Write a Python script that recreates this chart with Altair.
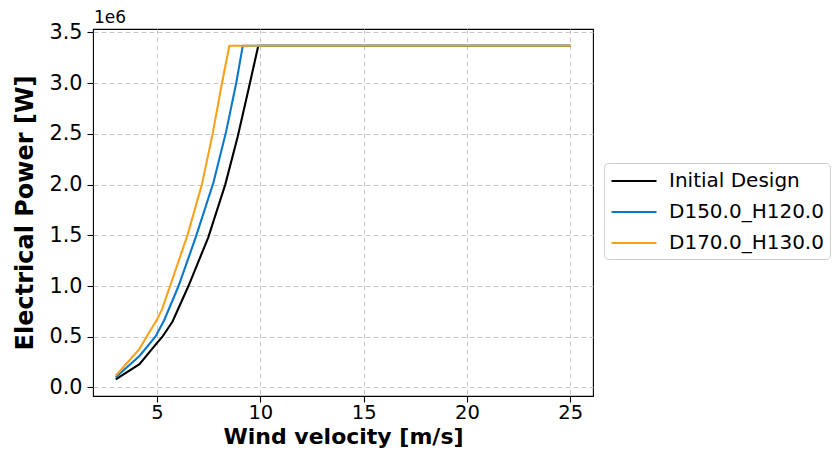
import altair as alt
import pandas as pd

# Wind velocity [m/s] and electrical power [x1e6 W]
series_names = ["Initial Design", "D150.0_H120.0", "D170.0_H130.0"]
series_colors = ["#000000", "#0a78c8", "#f7a21b"]

v_initial = [3.0, 4.15, 5.0, 5.26, 5.75, 6.52, 7.48, 8.3, 8.9, 9.45, 9.9, 25.0]
p_initial = [0.08, 0.23, 0.44, 0.50, 0.65, 1.00, 1.48, 2.00, 2.47, 2.96, 3.37, 3.37]

v_d150 = [3.0, 4.15, 4.92, 5.34, 6.04, 6.87, 7.73, 8.34, 8.83, 9.15, 25.0]
p_d150 = [0.10, 0.31, 0.50, 0.66, 1.00, 1.48, 2.02, 2.52, 3.00, 3.37, 3.37]

v_d170 = [3.0, 4.15, 4.55, 5.0, 5.24, 5.63, 6.47, 7.17, 7.69, 8.14, 8.5, 25.0]
p_d170 = [0.115, 0.38, 0.52, 0.67, 0.77, 1.00, 1.50, 2.00, 2.50, 3.00, 3.37, 3.37]

x_ticks = [5, 10, 15, 20, 25]
y_ticks = [0.0, 0.5, 1.0, 1.5, 2.0, 2.5, 3.0, 3.5]
offset_label = "1e6"

rows = []
for name, vs, ps in [(series_names[0], v_initial, p_initial),
                     (series_names[1], v_d150, p_d150),
                     (series_names[2], v_d170, p_d170)]:
    for v, p in zip(vs, ps):
        rows.append({"series": name, "v": v, "p": p})
df = pd.DataFrame(rows)

FONT = "DejaVu Sans"

lines = alt.Chart(df).mark_line(strokeWidth=2.1, clip=True).encode(
    x=alt.X("v:Q",
            scale=alt.Scale(domain=[1.9, 26.1], nice=False, zero=False),
            axis=alt.Axis(values=x_ticks, format="d", title="Wind velocity [m/s]",
                          titleY=47, titleBaseline="alphabetic", titleFontSize=22,
                          labelFontSize=19.5, labelPadding=1)),
    y=alt.Y("p:Q",
            scale=alt.Scale(domain=[-0.0845, 3.5345], nice=False, zero=False),
            axis=alt.Axis(values=y_ticks, format=".1f", title="Electrical Power [W]",
                          titleX=-61, titleY=183.5, titleAngle=270,
                          titleBaseline="alphabetic", labelPadding=5)),
    color=alt.Color("series:N",
                    scale=alt.Scale(domain=series_names, range=series_colors),
                    legend=alt.Legend(title=None, orient="none",
                                      legendX=511, legendY=134,
                                      symbolType="M-2.143,0H2.143",
                                      symbolSize=441, symbolStrokeWidth=2.1,
                                      symbolOffset=12, labelOffset=23,
                                      labelFont=FONT, labelFontSize=20,
                                      labelColor="#000000", rowPadding=9,
                                      padding=6, fillColor="#ffffff",
                                      strokeColor="#d0d0d0", cornerRadius=4)),
)

offset_text = alt.Chart(pd.DataFrame({"t": [offset_label]})).mark_text(
    align="left", baseline="alphabetic", font=FONT, fontSize=17, color="#000000"
).encode(x=alt.value(1), y=alt.value(-6), text="t:N")

chart = alt.layer(lines, offset_text).properties(
    width=500, height=367,
    autosize=alt.AutoSizeParams(type="none"),
    padding={"left": 85, "top": 21, "right": 239, "bottom": 52},
).configure_view(
    stroke="#000000", strokeWidth=1.1
).configure_axis(
    domain=False,
    labelFont=FONT, labelFontSize=20.8, labelColor="#000000",
    tickColor="#000000", tickSize=6, tickWidth=1.1,
    titleFont=FONT, titleFontSize=24, titleFontWeight="bold", titleColor="#000000",
    gridColor="#c8c8c8", gridDash=[5, 3], gridWidth=1,
)

chart.save("out.html", embed_options={"renderer": "svg", "actions": False})
